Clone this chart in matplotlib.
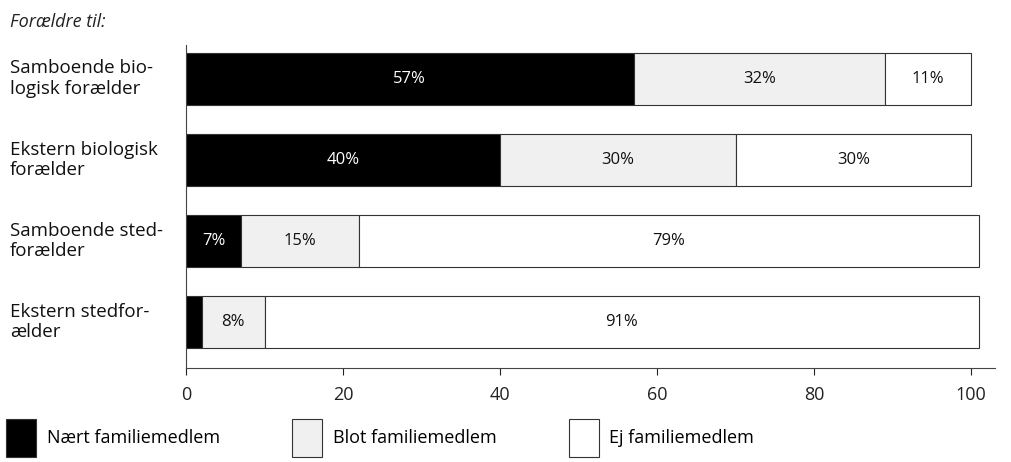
import matplotlib.pyplot as plt
from matplotlib.patches import Patch

plt.rcParams['font.family'] = ['Open Sans', 'DejaVu Sans']

categories = ['Samboende bio-\nlogisk forælder',
              'Ekstern biologisk\nforælder',
              'Samboende sted-\nforælder',
              'Ekstern stedfor-\nælder']
naert = [57, 40, 7, 2]
blot = [32, 30, 15, 8]
ej = [11, 30, 79, 91]
naert_labels = ['57%', '40%', '7%', '']
blot_labels = ['32%', '30%', '15%', '8%']
ej_labels = ['11%', '30%', '79%', '91%']
series_names = ['Nært familiemedlem', 'Blot familiemedlem', 'Ej familiemedlem']
xticks = [0, 20, 40, 60, 80, 100]

colors = ['#000000', '#f0f0f0', '#ffffff']
edge = '#333333'

fig = plt.figure(figsize=(10.11, 4.62), dpi=100)
ax = fig.add_axes([0.184, 0.203, 0.800, 0.700])

y = list(range(len(categories)))
h = 0.65
left2 = [a for a in naert]
left3 = [a + b for a, b in zip(naert, blot)]

b1 = ax.barh(y, naert, height=h, color=colors[0], edgecolor=edge, linewidth=0.8)
b2 = ax.barh(y, blot, left=left2, height=h, color=colors[1], edgecolor=edge, linewidth=0.8)
b3 = ax.barh(y, ej, left=left3, height=h, color=colors[2], edgecolor=edge, linewidth=0.8)

ax.bar_label(b1, labels=naert_labels, label_type='center', color='white', fontsize=12)
ax.bar_label(b2, labels=blot_labels, label_type='center', color='#111111', fontsize=12)
ax.bar_label(b3, labels=ej_labels, label_type='center', color='#111111', fontsize=12)

ax.set_xlim(0, 103)
ax.set_ylim(3.57, -0.42)
ax.set_yticks([])
ax.set_xticks(xticks)
ax.tick_params(axis='x', direction='out', length=5, labelsize=13, pad=8, colors='#222222')
for s in ['top', 'right']:
    ax.spines[s].set_visible(False)
ax.spines['left'].set_color('#444444')
ax.spines['bottom'].set_color('#444444')
ax.spines['left'].set_linewidth(0.8)
ax.spines['bottom'].set_linewidth(0.8)

tr = ax.get_yaxis_transform()
for i, c in enumerate(categories):
    ax.text(-0.2176, i, c, transform=tr, ha='left', va='center', fontsize=13.5,
            linespacing=1.2, color='#111111')

fig.text(0.010, 0.952, 'Forældre til:', style='italic', fontsize=13, color='#222222',
         ha='left', va='center')

handles = [Patch(facecolor=colors[k], edgecolor=edge, linewidth=0.8, label=series_names[k])
           for k in range(3)]
fig.legend(handles=handles, loc='center left', bbox_to_anchor=(-0.010, 0.052), ncol=3,
           frameon=False, fontsize=13, handlelength=1.65, handleheight=2.8,
           handletextpad=0.6, columnspacing=4.0)

fig.savefig('out.png', dpi=100)
